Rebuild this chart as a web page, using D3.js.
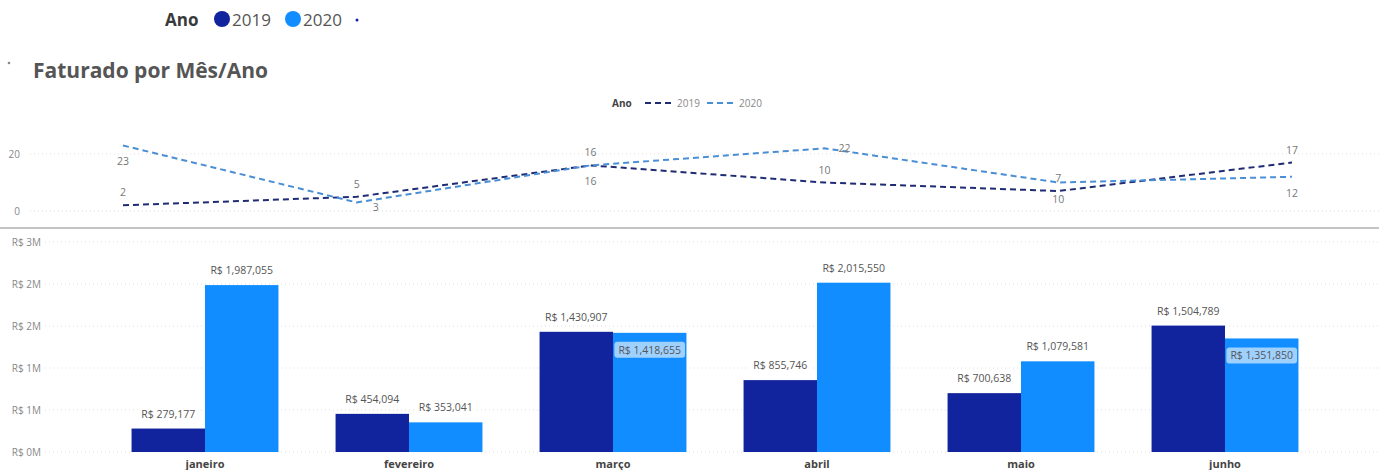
<!DOCTYPE html>
<html><head><meta charset="utf-8">
<script src="https://cdn.jsdelivr.net/npm/d3@7"></script>
<style>
body{margin:0;background:#fff;overflow:hidden;}
svg{display:block;font-family:"Open Sans","Noto Sans",sans-serif;}
</style>
</head><body>
<svg id="c" width="1379" height="470"></svg>
<script>
// ---- data ----
const months = ["janeiro", "fevereiro", "março", "abril", "maio", "junho"];
const years = ["2019", "2020"];
const qty2019 = [2, 5, 16, 10, 7, 17];
const qty2020 = [23, 3, 16, 22, 10, 12];
const fat2019 = [279177, 454094, 1430907, 855746, 700638, 1504789];
const fat2020 = [1987055, 353041, 1418655, 2015550, 1079581, 1351850];
const lineTicks = [0, 20];
const barTicks = [0, 500000, 1000000, 1500000, 2000000, 2500000];
// label placement options (style)
const lineLabelPlace2019 = ["above", "above", "below", "above", "above", "above"];
const lineLabelPlace2020 = ["below", "belowright", "above", "right", "below", "below"];
const barLabelInside2020 = [false, false, true, false, false, true];

const C19 = "#12239E", C20 = "#118DFF";
const L19 = "#1f2c73", L20 = "#4a8fd6";
const W = 1379;
const svg = d3.select("#c");

// ---- top legend ----
const tl = svg.append("g");
tl.append("text").attr("x", 165).attr("y", 26).attr("font-size", 17).attr("font-weight", 700).attr("fill", "#3a3a3a").text("Ano");
[[C19, "2019", 222], [C20, "2020", 293]].forEach(([c, t, x]) => {
  tl.append("circle").attr("cx", x).attr("cy", 19).attr("r", 8).attr("fill", c);
  tl.append("text").attr("x", x + 10).attr("y", 26).attr("font-size", 17).attr("fill", "#555").text(t);
});
tl.append("circle").attr("cx", 357).attr("cy", 20).attr("r", 1.5).attr("fill", C19);

// ---- title ----
svg.append("circle").attr("cx", 9).attr("cy", 63).attr("r", 1.3).attr("fill", "#888");
svg.append("text").attr("x", 33).attr("y", 78).attr("font-size", 21).attr("font-weight", 700).attr("fill", "#555").text("Faturado por Mês/Ano");

// ---- line legend ----
const ll = svg.append("g").attr("font-size", 10);
ll.append("text").attr("x", 612).attr("y", 107).attr("font-weight", 700).attr("fill", "#444").text("Ano");
[[L19, "2019", 645], [L20, "2020", 707]].forEach(([c, t, x]) => {
  ll.append("line").attr("x1", x).attr("x2", x + 30).attr("y1", 103).attr("y2", 103)
    .attr("stroke", c).attr("stroke-width", 2).attr("stroke-dasharray", "6,4");
  ll.append("text").attr("x", x + 32).attr("y", 107).attr("fill", "#888").text(t);
});

// ---- line chart ----
const xL = d3.scalePoint().domain(months).range([123, 1292]);
const yL = d3.scaleLinear().domain([0, 20]).range([211, 154]);

const gl = svg.append("g");
gl.selectAll("line.grid").data(lineTicks).join("line").attr("class", "grid")
  .attr("x1", 30).attr("x2", W).attr("y1", d => yL(d)).attr("y2", d => yL(d))
  .attr("stroke", "#ddd").attr("stroke-width", 1).attr("stroke-dasharray", "1,3");
const axL = svg.append("g").attr("transform", "translate(26,0)")
  .call(d3.axisLeft(yL).tickValues(lineTicks).tickSize(0).tickPadding(6));
axL.select(".domain").remove();
axL.selectAll("text").attr("font-size", 10).attr("fill", "#888").attr("font-family", "Open Sans, Noto Sans, sans-serif");

const lineGen = d3.line().x((d, i) => xL(months[i])).y(d => yL(d));
[[qty2019, L19], [qty2020, L20]].forEach(([vals, col]) => {
  gl.append("path").datum(vals).attr("d", lineGen).attr("fill", "none")
    .attr("stroke", col).attr("stroke-width", 2).attr("stroke-dasharray", "6,4");
});
const dxs = {above: 0, below: 0, right: 20, belowright: 19};
const dys = {above: -9, below: 20, right: 4, belowright: 9};
[[qty2019, lineLabelPlace2019], [qty2020, lineLabelPlace2020]].forEach(([vals, place]) => {
  gl.selectAll(null).data(vals).join("text")
    .attr("x", (d, i) => xL(months[i]) + dxs[place[i]])
    .attr("y", (d, i) => yL(d) + dys[place[i]])
    .attr("text-anchor", "middle").attr("font-size", 10.5).attr("fill", "#777")
    .text(d => d);
});

// separator
svg.append("line").attr("x1", 0).attr("x2", W).attr("y1", 228).attr("y2", 228)
  .attr("stroke", "#c4c4c4").attr("stroke-width", 2);

// ---- bar chart ----
const x0 = d3.scaleBand().domain(months).range([103, 1327]).paddingInner(0.28).paddingOuter(0.14);
const x1 = d3.scaleBand().domain(years).range([0, x0.bandwidth()]);
const yB = d3.scaleLinear().domain([0, 2500000]).range([452, 242]);

const gb = svg.append("g");
gb.selectAll("line.grid").data(barTicks).join("line").attr("class", "grid")
  .attr("x1", 45).attr("x2", W).attr("y1", d => yB(d)).attr("y2", d => yB(d))
  .attr("stroke", "#ddd").attr("stroke-width", 1).attr("stroke-dasharray", "1,3");
const axB = svg.append("g").attr("transform", "translate(41,0)")
  .call(d3.axisLeft(yB).tickValues(barTicks).tickSize(0).tickPadding(0)
    .tickFormat(d => "R$ " + Math.round(d / 1e6) + "M"));
axB.select(".domain").remove();
axB.selectAll("text").attr("font-size", 10).attr("fill", "#888").attr("font-family", "Open Sans, Noto Sans, sans-serif");

const rows = months.map((m, i) => ({m, i, vals: [
  {y: "2019", v: fat2019[i], inside: false},
  {y: "2020", v: fat2020[i], inside: barLabelInside2020[i]}
]}));
const grp = gb.selectAll("g.m").data(rows).join("g").attr("class", "m")
  .attr("transform", d => `translate(${x0(d.m)},0)`);
grp.selectAll("rect").data(d => d.vals).join("rect")
  .attr("x", d => x1(d.y)).attr("width", x1.bandwidth())
  .attr("y", d => yB(d.v)).attr("height", d => yB(0) - yB(d.v))
  .attr("fill", d => d.y === "2019" ? C19 : C20);

const fmt = d3.format(",");
const lab = grp.selectAll("g.lab").data(d => d.vals).join("g").attr("class", "lab")
  .attr("transform", d => `translate(${x1(d.y) + x1.bandwidth() / 2},${d.inside ? yB(d.v) + 21 : yB(d.v) - 11})`);
lab.each(function(d) {
  const g = d3.select(this);
  const t = g.append("text").attr("text-anchor", "middle").attr("font-size", 10.5)
    .attr("fill", "#555").text("R$ " + fmt(d.v));
  const bb = t.node().getBBox();
  g.insert("rect", "text").attr("x", bb.x - 4).attr("y", bb.y - 1).attr("width", bb.width + 8).attr("height", bb.height + 2)
    .attr("rx", d.inside ? 3 : 0)
    .attr("fill", d.inside ? "rgba(255,255,255,0.6)" : "#fff");
});

// x labels
gb.selectAll("text.xl").data(months).join("text").attr("class", "xl")
  .attr("x", d => x0(d) + x0.bandwidth() / 2).attr("y", 468)
  .attr("text-anchor", "middle").attr("font-size", 11).attr("font-weight", 700).attr("fill", "#444")
  .text(d => d);
</script>
</body></html>
